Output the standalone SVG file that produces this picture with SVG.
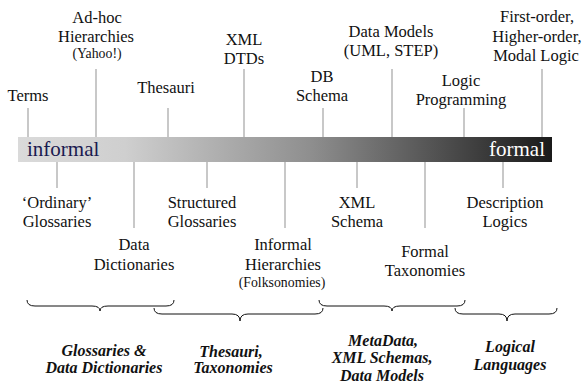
<svg xmlns="http://www.w3.org/2000/svg" width="582" height="387" viewBox="0 0 582 387">
<style>
.t{font-family:"Liberation Serif","Times New Roman",serif;font-size:16.5px;fill:#111;text-anchor:middle}
.s{font-size:13.8px}
.b{font-family:"Liberation Serif","Times New Roman",serif;font-size:16px;font-weight:bold;font-style:italic;fill:#111;text-anchor:middle}
.tick{stroke:#c8c8c8;stroke-width:2;fill:none}
.brace{stroke:#111;stroke-width:1;fill:none}
</style>
<defs>
<linearGradient id="g" x1="0" y1="0" x2="1" y2="0">
<stop offset="0" stop-color="#dadada"/>
<stop offset="0.2" stop-color="#cfcfcf"/>
<stop offset="0.55" stop-color="#8e8e8e"/>
<stop offset="1" stop-color="#1a1a1a"/>
</linearGradient>
</defs>
<rect id="bar" x="18" y="137" width="534" height="25" fill="url(#g)"/>
<text x="27" y="156" style="font-family:'Liberation Serif',serif;font-size:21px;fill:#1a1a50">informal</text>
<text x="545" y="156" style="font-family:'Liberation Serif',serif;font-size:21px;fill:#fff;text-anchor:end">formal</text>
<g id="connectors">
<line class="tick" x1="28" y1="108" x2="28" y2="137"/>
<line class="tick" x1="96" y1="69" x2="96" y2="137"/>
<line class="tick" x1="168" y1="108" x2="168" y2="137"/>
<line class="tick" x1="244" y1="69" x2="244" y2="137"/>
<line class="tick" x1="323" y1="108" x2="323" y2="137"/>
<line class="tick" x1="392" y1="69" x2="392" y2="137"/>
<line class="tick" x1="464" y1="108" x2="464" y2="137"/>
<line class="tick" x1="542" y1="69" x2="542" y2="137"/>
<line class="tick" x1="57" y1="162" x2="57" y2="188"/>
<line class="tick" x1="134" y1="162" x2="134" y2="228"/>
<line class="tick" x1="207" y1="162" x2="207" y2="188"/>
<line class="tick" x1="285" y1="162" x2="285" y2="228"/>
<line class="tick" x1="357" y1="162" x2="357" y2="188"/>
<line class="tick" x1="425" y1="162" x2="425" y2="228"/>
<line class="tick" x1="503" y1="162" x2="503" y2="188"/>
</g>
<g id="terms"><text class="t" x="28" y="101">Terms</text></g>
<g id="adhoc"><text class="t" x="97" y="23">Ad-hoc</text><text class="t" x="96" y="42">Hierarchies</text><text class="t s" x="97" y="58">(Yahoo!)</text></g>
<g id="thesauri"><text class="t" x="166" y="93">Thesauri</text></g>
<g id="xmldtds"><text class="t" x="244" y="45">XML</text><text class="t" x="244" y="64">DTDs</text></g>
<g id="dbschema"><text class="t" x="322" y="82">DB</text><text class="t" x="322" y="101">Schema</text></g>
<g id="datamodels"><text class="t" x="391" y="37">Data Models</text><text class="t" x="391" y="56">(UML, STEP)</text></g>
<g id="logicprog"><text class="t" x="461" y="86">Logic</text><text class="t" x="461" y="105">Programming</text></g>
<g id="firstorder"><text class="t" x="537" y="22">First-order,</text><text class="t" x="537" y="42">Higher-order,</text><text class="t" x="536" y="61">Modal Logic</text></g>
<g id="ordinary"><text class="t" x="57" y="208">‘Ordinary’</text><text class="t" x="57" y="227">Glossaries</text></g>
<g id="datadict"><text class="t" x="134" y="250">Data</text><text class="t" x="134" y="270">Dictionaries</text></g>
<g id="structured"><text class="t" x="202" y="208">Structured</text><text class="t" x="202" y="227">Glossaries</text></g>
<g id="informalh"><text class="t" x="283" y="250">Informal</text><text class="t" x="283" y="270">Hierarchies</text><text class="t s" x="282" y="287">(Folksonomies)</text></g>
<g id="xmlschema"><text class="t" x="357" y="208">XML</text><text class="t" x="357" y="227">Schema</text></g>
<g id="formaltax"><text class="t" x="425" y="257">Formal</text><text class="t" x="425" y="276">Taxonomies</text></g>
<g id="desclogics"><text class="t" x="505" y="208">Description</text><text class="t" x="505" y="227">Logics</text></g>
<g id="braces">
<path class="brace" d="M27 300 Q27 306 35 306 L92 306 Q100 306 100 311 Q100 306 108 306 L166 306 Q174 306 174 300"/>
<path class="brace" d="M154 308 Q154 314 162 314 L232 314 Q240 314 240 321 Q240 314 248 314 L315 314 Q323 314 323 308"/>
<path class="brace" d="M319 300 Q319 306 327 306 L384 306 Q392 306 392 311 Q392 306 400 306 L457 306 Q465 306 465 300"/>
<path class="brace" d="M455 308 Q455 314 463 314 L499 314 Q507 314 507 321 Q507 314 515 314 L549 314 Q557 314 557 308"/>
</g>
<g id="glossaries"><text class="b" x="104" y="356">Glossaries &amp;</text><text class="b" x="104" y="373">Data Dictionaries</text></g>
<g id="thesaurit"><text class="b" x="231" y="357">Thesauri,</text><text class="b" x="233" y="373">Taxonomies</text></g>
<g id="metadata"><text class="b" x="383" y="346">MetaData,</text><text class="b" x="382" y="363">XML Schemas,</text><text class="b" x="382" y="381">Data Models</text></g>
<g id="logical"><text class="b" x="510" y="352">Logical</text><text class="b" x="510" y="370">Languages</text></g>
</svg>
